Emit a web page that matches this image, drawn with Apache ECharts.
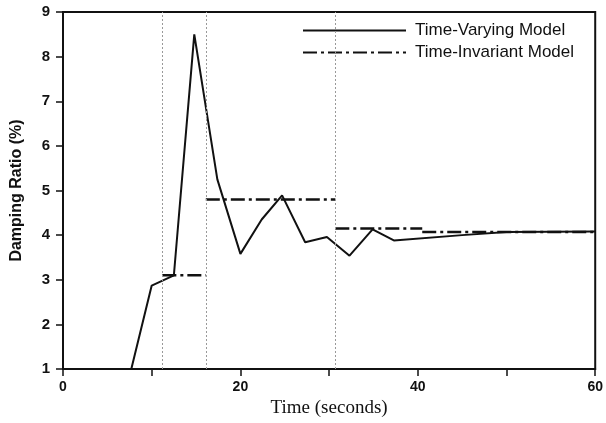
<!DOCTYPE html>
<html>
<head>
<meta charset="utf-8">
<script src="https://cdn.jsdelivr.net/npm/echarts@6/dist/echarts.min.js"></script>
<style>
html,body{margin:0;padding:0;background:#fff;}
#chart{width:606px;height:423px;}
</style>
</head>
<body>
<div id="chart"></div>
<script>
// Time-Varying Model (solid)
var varyingTime = [0, 7.7, 10, 12.5, 14.8, 17.4, 20, 22.4, 24.7, 27.3, 29.75, 32.3, 34.9, 37.3, 45, 50, 60];
var varyingRatio = [1, 1, 2.87, 3.1, 8.5, 5.25, 3.58, 4.35, 4.89, 3.84, 3.96, 3.54, 4.13, 3.88, 4.0, 4.07, 4.08];
// Time-Invariant Model (dash-dot, piecewise constant)
var invariantStart = [11.2, 16.1, 30.7, 40.5];
var invariantEnd = [16.1, 30.7, 40.5, 60];
var invariantRatio = [3.1, 4.8, 4.15, 4.07];
// Vertical dotted switching lines
var switchTimes = [11.2, 16.1, 30.7];
// Axis ticks
var xTicks = [0, 20, 40, 60];

var varyingData = varyingTime.map(function (t, i) { return [t, varyingRatio[i]]; });
var invariantData = [];
invariantStart.forEach(function (s, i) {
  invariantData.push([s, invariantRatio[i]]);
  invariantData.push([invariantEnd[i], invariantRatio[i]]);
  invariantData.push([invariantEnd[i], '-']);
});

var chart = echarts.init(document.getElementById('chart'));
chart.setOption({
  animation: false,
  backgroundColor: '#fff',
  grid: { left: 63, right: 6, top: 12, bottom: 50, show: true, borderColor: '#111', borderWidth: 2, backgroundColor: 'transparent' },
  legend: {
    orient: 'vertical', left: 297, top: 17,
    itemWidth: 103, itemHeight: 14, itemGap: 5,
    itemStyle: { opacity: 0 },
    textStyle: { fontFamily: 'Liberation Sans, Arial', fontSize: 17, color: '#111', padding: [0, 0, 0, 4] },
    data: ['Time-Varying Model', 'Time-Invariant Model']
  },
  xAxis: {
    type: 'value', min: 0, max: 60, interval: 10,
    name: 'Time (seconds)', nameLocation: 'middle', nameGap: 30,
    nameTextStyle: { fontFamily: 'Liberation Serif, Times New Roman', fontSize: 19, color: '#111' },
    axisLine: { show: true, lineStyle: { color: '#111', width: 2 } },
    axisTick: { show: true, inside: false, length: 7, lineStyle: { color: '#111', width: 1.5 } },
    axisLabel: { margin: 11, fontFamily: 'Liberation Sans, Arial', fontWeight: 'bold', fontSize: 14, color: '#111',
      formatter: function (v) { return xTicks.indexOf(v) >= 0 ? String(v) : ''; } },
    splitLine: { show: false }
  },
  yAxis: {
    type: 'value', min: 1, max: 9, interval: 1,
    name: 'Damping Ratio (%)', nameLocation: 'middle', nameGap: 38,
    nameTextStyle: { fontFamily: 'Liberation Sans, Arial', fontWeight: 'bold', fontSize: 16, color: '#111' },
    axisLine: { show: true, lineStyle: { color: '#111', width: 2 } },
    axisTick: { show: true, inside: false, length: 7, lineStyle: { color: '#111', width: 1.5 } },
    axisLabel: { margin: 13, fontFamily: 'Liberation Sans, Arial', fontWeight: 'bold', fontSize: 15, color: '#111' },
    splitLine: { show: false }
  },
  series: [
    {
      name: 'Time-Varying Model', type: 'line', data: varyingData,
      symbol: 'none', lineStyle: { color: '#111', width: 2 }, itemStyle: { color: '#111' },
      markLine: {
        silent: true, symbol: 'none', label: { show: false },
        lineStyle: { color: '#999', width: 1, type: [2, 2] },
        data: switchTimes.map(function (t) { return { xAxis: t }; })
      },
      z: 3
    },
    {
      name: 'Time-Invariant Model', type: 'line', data: invariantData, connectNulls: false,
      symbol: 'none', lineStyle: { color: '#111', width: 2.5, type: [14, 4, 3, 4] }, itemStyle: { color: '#111' },
      z: 2
    }
  ]
});
</script>
</body>
</html>
